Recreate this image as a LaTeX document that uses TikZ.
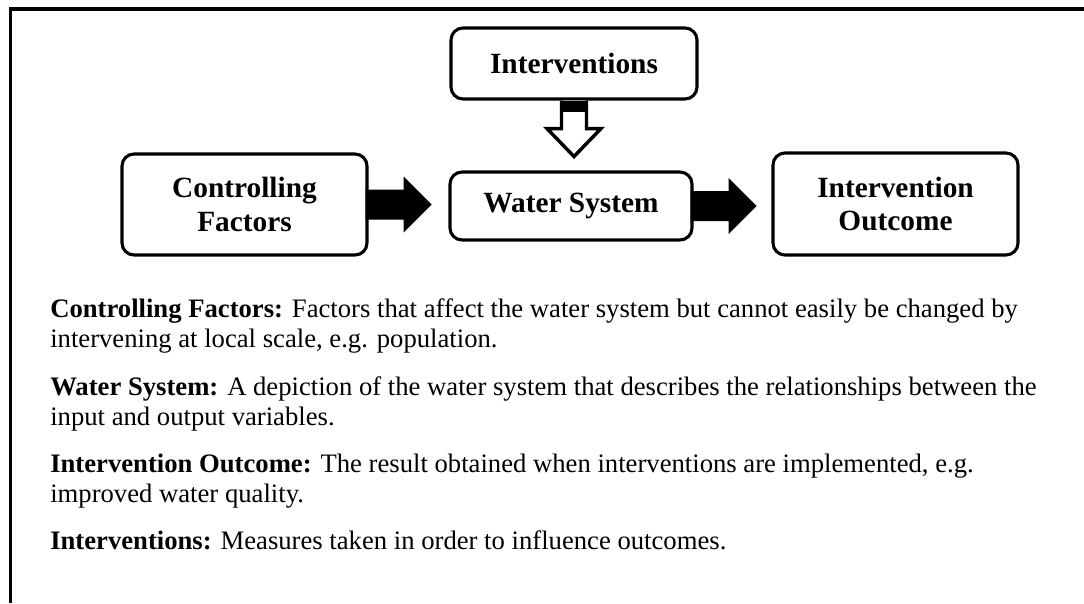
\documentclass[tikz,border=0pt]{standalone}
\usepackage{fontspec}
\setmainfont{Liberation Serif}
\usetikzlibrary{calc}
\newcommand\blkarrow[1]{\fill ($(#1)+(-3,-15)$) -- ($(#1)+(35,-15)$) -- ($(#1)+(35,-28)$) -- ($(#1)+(63,0)$) -- ($(#1)+(35,28)$) -- ($(#1)+(35,15)$) -- ($(#1)+(-3,15)$) -- cycle;}
\begin{document}
\begin{tikzpicture}[x=0.75pt,y=-0.75pt,
 box/.style={draw, line width=2.3pt, rounded corners=9pt, align=center, font=\fontsize{22}{25}\selectfont\bfseries, inner sep=0pt},
 frame/.style={line width=2.3pt, line join=miter},
 para/.style={anchor=base west, align=left, inner sep=0pt, font=\fontsize{20}{21.9}\selectfont}]
\useasboundingbox (0,0) rectangle (1084,603);
\draw[frame] (10.5,603) -- (10.5,9) -- (1084,9);
\node[box, minimum width=184.5pt, minimum height=53.25pt] (inter) at (574,63.5) {Interventions};
\node[box, minimum width=181.5pt, minimum height=51pt] (ws) at (571,206) {Water System};
\node[box, minimum width=183.75pt, minimum height=75.75pt] (cf) at (244.5,204.5) {Controlling\\Factors};
\node[box, minimum width=183.75pt, minimum height=76.5pt] (io) at (895.5,204) {Intervention\\Outcome};
\blkarrow{cf.east}
\blkarrow{ws.east}
\draw[line width=2.6pt, fill=white, line join=miter] ($(inter.south)+(-12.5,0)$) -- ($(inter.south)+(-12.5,28)$) -- ($(inter.south)+(-27,28)$) -- ($(inter.south)+(0,56)$) -- ($(inter.south)+(27,28)$) -- ($(inter.south)+(12.5,28)$) -- ($(inter.south)+(12.5,0)$);
\fill ($(inter.south)+(-14,0)$) rectangle ($(inter.south)+(14,11)$);
\node[para] (p1) at (50,347) {\textbf{Controlling Factors:} Factors that affect the water system but cannot easily be changed by\\intervening at local scale, e.g. population.};
\node[para] (p2) at (50,425) {\textbf{Water System:} A depiction of the water system that describes the relationships between the\\input and output variables.};
\node[para] (p3) at (50,502) {\textbf{Intervention Outcome:} The result obtained when interventions are implemented, e.g.\\improved water quality.};
\node[para] (p4) at (50,549) {\textbf{Interventions:} Measures taken in order to influence outcomes.};
\end{tikzpicture}
\end{document}
